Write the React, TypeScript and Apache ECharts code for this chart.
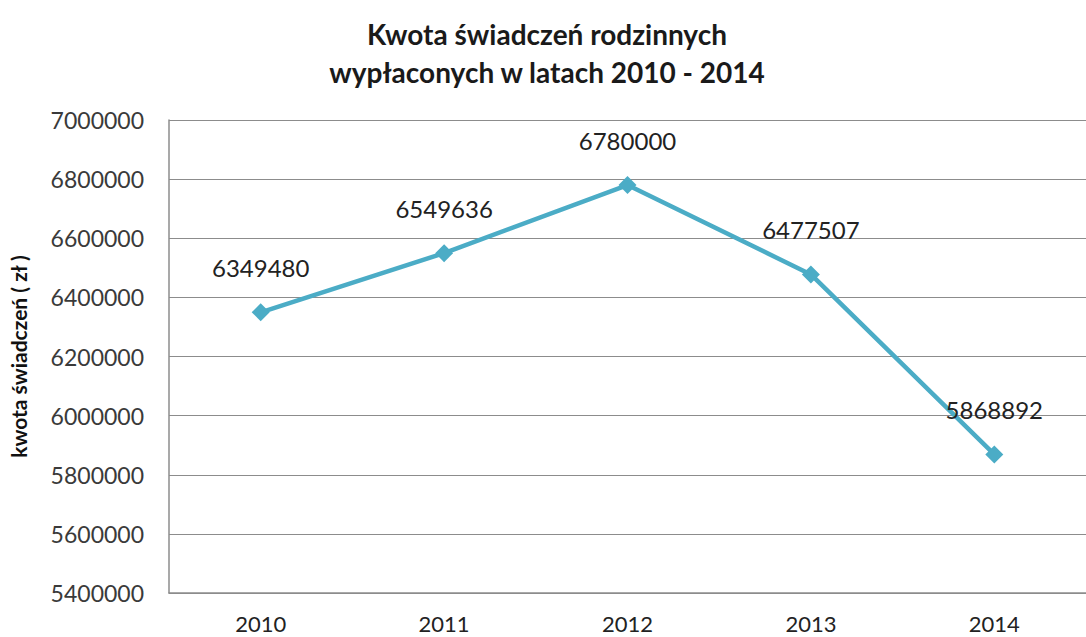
import React, { useEffect, useRef } from "react";
import * as echarts from "echarts";

const titleLines = ["Kwota świadczeń rodzinnych", "wypłaconych w latach 2010 - 2014"];
const yAxisName = "kwota świadczeń ( zł )";
const years = ["2010", "2011", "2012", "2013", "2014"];
const amounts = [6349480, 6549636, 6780000, 6477507, 5868892];
const yMin = 5400000;
const yMax = 7000000;
const yStep = 200000;

export default function App() {
  const ref = useRef<HTMLDivElement>(null);
  useEffect(() => {
    document.body.style.margin = "0";
    const chart = echarts.init(ref.current!, null, { renderer: "svg" });
    const font = "Lato, 'Open Sans', sans-serif";
    chart.setOption({
      animation: false,
      backgroundColor: "#ffffff",
      title: {
        text: titleLines.join("\n"),
        left: 542,
        textAlign: "center",
        top: 10,
        textStyle: {
          fontFamily: font,
          fontSize: 28,
          fontWeight: "bold",
          color: "#1a1a1a",
          lineHeight: 38,
        },
      },
      grid: { left: 164, top: 120, width: 930, height: 473, containLabel: false },
      xAxis: {
        type: "category",
        data: years,
        boundaryGap: true,
        axisLine: { show: true, lineStyle: { color: "#8c8c8c", width: 1.5 } },
        axisTick: { show: false },
        axisLabel: { fontFamily: font, fontSize: 22, color: "#222", margin: 19 },
      },
      yAxis: {
        type: "value",
        min: yMin,
        max: yMax,
        interval: yStep,
        name: yAxisName,
        nameLocation: "middle",
        nameGap: 140,
        nameRotate: 90,
        nameTextStyle: { fontFamily: font, fontSize: 21, fontWeight: "bold", color: "#111" },
        axisLine: { show: true, lineStyle: { color: "#8c8c8c", width: 1.5 } },
        axisTick: { show: false },
        axisLabel: {
          fontFamily: font,
          fontSize: 23,
          color: "#3a3a3a",
          margin: 25,
          formatter: (v: number) => String(v),
        },
        splitLine: { show: true, lineStyle: { color: "#8c8c8c", width: 1.2 } },
      },
      series: [
        {
          type: "line",
          data: amounts,
          symbol: "diamond",
          symbolSize: 18,
          itemStyle: { color: "#4bacc6" },
          lineStyle: { color: "#4bacc6", width: 4.5 },
          label: {
            show: true,
            position: "top",
            distance: 24,
            fontFamily: font,
            fontSize: 24,
            color: "#222",
          },
        },
      ],
    });
    return () => chart.dispose();
  }, []);
  return <div ref={ref} style={{ width: 1086, height: 637 }} />;
}
